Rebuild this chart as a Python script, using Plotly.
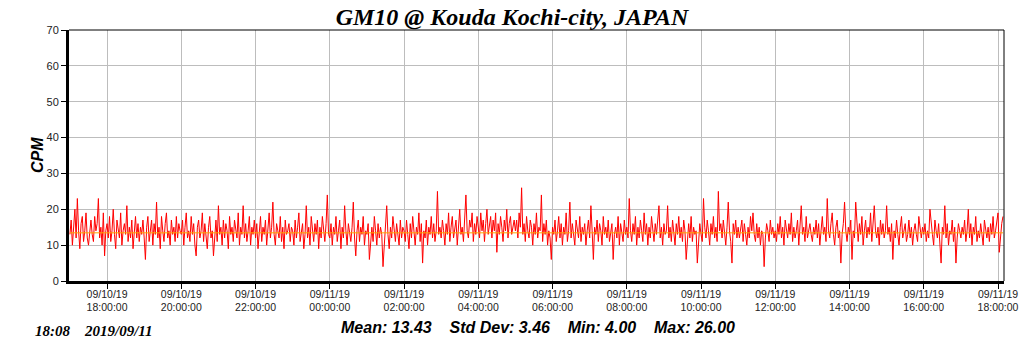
import pandas as pd
import plotly.graph_objects as go

TITLE = "GM10 @ Kouda Kochi-city, JAPAN"
START_TIME = "2019-09-10 17:00"
STEP = "2min"
MEAN = 13.43
STATS_TEXT = "Mean: 13.43    Std Dev: 3.46    Min: 4.00    Max: 26.00"
STAMP_TEXT = "18:08    2019/09/11"

cpm = [
    13,17,10,15,20,12,23,14,9,16,18,11,14,19,12,10,15,17,13,11,18,14,16,23,12,15,10,19,7,14,
    16,12,18,11,14,20,13,9,17,15,12,19,10,14,16,13,21,11,15,12,17,9,14,18,12,16,11,15,13,17,
    12,6,15,18,11,14,17,10,16,13,22,12,15,9,18,14,11,16,19,12,14,10,17,13,15,11,18,12,16,14,
    13,17,10,15,19,12,14,11,18,13,16,10,7,15,17,12,14,19,11,16,13,9,15,18,12,14,7,13,17,11,
    21,13,15,10,17,12,16,14,9,18,13,15,11,17,14,12,19,10,15,13,21,12,16,11,14,18,10,15,13,17,
    12,16,9,14,18,11,15,13,17,10,14,19,12,15,22,13,10,16,14,12,18,11,15,9,17,13,14,16,11,15,
    14,10,17,12,15,19,11,14,16,9,13,21,12,15,10,18,14,11,16,13,17,9,15,12,18,14,11,16,24,13,
    12,16,10,15,13,18,11,14,17,9,15,12,21,14,10,16,13,11,15,22,12,7,14,17,11,15,13,18,10,14,
    13,16,6,12,15,11,18,14,10,16,12,15,13,4,11,17,21,13,9,15,12,18,14,11,16,13,10,17,12,15,
    14,11,17,13,9,16,12,18,14,10,15,13,19,11,16,5,14,12,17,10,15,13,18,12,16,11,14,25,13,15,
    12,17,14,10,16,13,19,11,15,18,12,14,17,10,16,20,13,15,11,18,24,14,12,17,15,19,11,16,13,18,
    15,12,19,14,17,11,16,20,13,15,18,12,17,14,19,8,16,13,18,15,11,17,14,20,12,16,18,13,15,17,
    14,17,12,19,15,26,13,16,11,18,14,12,17,15,10,16,13,19,12,15,14,24,11,16,13,17,10,14,12,6,
    15,13,17,11,14,18,12,16,10,15,13,19,11,14,22,12,16,13,10,17,14,12,18,11,15,13,16,10,14,17,
    12,21,14,6,15,13,17,11,16,14,10,18,13,15,12,17,11,14,16,6,13,15,12,18,10,16,14,11,17,13,
    15,12,23,14,11,16,13,18,10,15,12,17,14,11,19,13,16,10,15,12,18,14,11,16,13,17,21,12,15,10,
    16,13,14,21,12,15,11,17,14,10,16,13,18,12,15,11,17,14,6,13,16,12,18,11,15,13,14,5,12,16,
    13,11,23,15,12,17,14,10,16,13,18,12,15,11,25,14,16,12,17,13,10,15,22,14,11,5,16,13,17,12,
    15,12,14,17,11,16,13,10,15,12,18,14,19,13,11,16,12,15,10,14,13,4,12,16,14,11,17,13,15,12,
    14,11,16,13,18,12,15,10,17,14,12,16,13,19,11,15,12,14,17,10,16,21,13,15,11,18,12,14,16,13,
    11,15,13,17,12,16,10,14,18,13,15,11,23,14,12,16,19,13,10,15,17,12,14,5,13,16,22,14,11,15,
    13,17,6,14,12,22,15,11,16,13,18,10,14,17,12,15,13,19,11,16,21,14,12,15,10,17,13,16,12,14,
    21,13,15,11,16,6,14,12,17,13,10,15,18,12,14,16,11,13,17,12,15,10,14,16,13,11,18,14,12,15,
    13,16,11,14,12,20,15,13,10,17,14,12,16,11,5,15,13,21,12,16,10,14,13,17,11,15,5,12,16,14,
    12,15,13,17,11,14,20,12,16,10,15,13,18,11,14,12,16,13,10,17,14,12,15,11,16,13,18,12,14,17,
    19,8,13,16,18,
]

x_range = ["2019-09-10 16:58:30", "2019-09-11 18:09:40"]
tick_vals = [
    "2019-09-10 18:00", "2019-09-10 20:00", "2019-09-10 22:00",
    "2019-09-11 00:00", "2019-09-11 02:00", "2019-09-11 04:00",
    "2019-09-11 06:00", "2019-09-11 08:00", "2019-09-11 10:00",
    "2019-09-11 12:00", "2019-09-11 14:00", "2019-09-11 16:00",
    "2019-09-11 18:00",
]
tick_text = [
    "09/10/19<br>18:00:00", "09/10/19<br>20:00:00", "09/10/19<br>22:00:00",
    "09/11/19<br>00:00:00", "09/11/19<br>02:00:00", "09/11/19<br>04:00:00",
    "09/11/19<br>06:00:00", "09/11/19<br>08:00:00", "09/11/19<br>10:00:00",
    "09/11/19<br>12:00:00", "09/11/19<br>14:00:00", "09/11/19<br>16:00:00",
    "09/11/19<br>18:00:00",
]

times = pd.date_range(START_TIME, periods=len(cpm), freq=STEP)

fig = go.Figure()
fig.add_trace(go.Scatter(
    x=times, y=cpm, mode="lines",
    line=dict(color="#FF0000", width=1),
    hoverinfo="skip", showlegend=False,
))
fig.add_trace(go.Scatter(
    x=[times[0], times[-1]], y=[MEAN, MEAN], mode="lines",
    line=dict(color="#FFA500", width=1),
    hoverinfo="skip", showlegend=False,
))

W, H = 1024, 351
L, R, T, B = 69, 20, 30, 70
pw = W - L - R
ph = H - T - B

fig.update_layout(
    width=W, height=H,
    margin=dict(l=L, r=R, t=T, b=B, pad=0, autoexpand=False),
    paper_bgcolor="white", plot_bgcolor="white",
    title=dict(
        text=TITLE, x=0.5, xanchor="center", xref="container",
        y=(H - 17) / H, yanchor="middle", yref="container",
        font=dict(family="Liberation Serif", size=24, color="black",
                  style="italic", weight="bold"),
    ),
    xaxis=dict(
        type="date", range=x_range, automargin=False,
        tickmode="array", tickvals=tick_vals, ticktext=tick_text,
        showgrid=True, gridcolor="#BDBDBD", gridwidth=1,
        showline=True, linecolor="black", linewidth=3,
        ticks="outside", ticklen=5, tickcolor="black", tickwidth=1,
        ticklabelstandoff=-4,
        tickfont=dict(family="Liberation Sans", size=10.5, color="#222222"),
        zeroline=False,
    ),
    yaxis=dict(
        range=[0, 70], dtick=10, tick0=0, automargin=False,
        showgrid=True, gridcolor="#BDBDBD", gridwidth=1,
        showline=True, linecolor="black", linewidth=3,
        ticks="outside", ticklen=5, tickcolor="black", tickwidth=1,
        tickfont=dict(family="Liberation Sans", size=11, color="#222222"),
        zeroline=False,
    ),
    shapes=[
        dict(type="line", xref="paper", yref="paper", x0=0, x1=1, y0=1, y1=1,
             line=dict(color="black", width=1)),
        dict(type="line", xref="paper", yref="paper", x0=1, x1=1, y0=0, y1=1,
             line=dict(color="black", width=1)),
    ],
    annotations=[
        dict(text="CPM", xref="paper", yref="paper",
             x=(37 - L) / pw, y=(T + ph - 155) / ph,
             xanchor="center", yanchor="middle", textangle=-90, showarrow=False,
             font=dict(family="Liberation Sans", size=16, color="black",
                       style="italic", weight="bold")),
        dict(text=STATS_TEXT, xref="paper", yref="paper",
             x=(538 - L) / pw, y=(T + ph - 327) / ph,
             xanchor="center", yanchor="middle", showarrow=False,
             font=dict(family="Liberation Sans", size=16, color="black",
                       style="italic", weight="bold")),
        dict(text=STAMP_TEXT, xref="paper", yref="paper",
             x=(33 - L) / pw, y=(T + ph - 331) / ph,
             xanchor="left", yanchor="middle", showarrow=False,
             font=dict(family="Liberation Serif", size=15, color="black",
                       style="italic", weight="bold")),
    ],
)

fig.write_html("out.html")
